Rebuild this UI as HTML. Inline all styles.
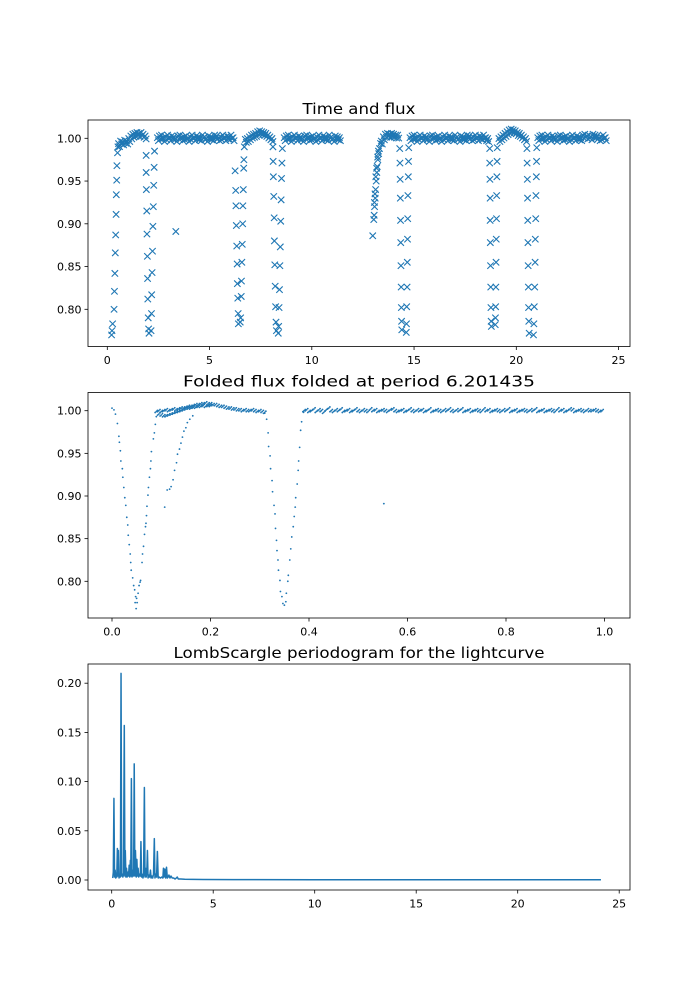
<!DOCTYPE html>
<html><head><meta charset="utf-8">
<style>
html,body{margin:0;padding:0;background:#fff;}
svg{display:block;font-family:"DejaVu Sans","Liberation Sans",sans-serif;}
</style></head>
<body>
<svg id="fig" width="700" height="1000" viewBox="0 0 700 1000" xmlns="http://www.w3.org/2000/svg">
<rect x="0" y="0" width="700" height="1000" fill="#fff"/>
<g id="p1"></g>
<g id="p2"></g>
<g id="p3"></g>
</svg>
<script>
// ---------- Panel 1 data: time & flux ----------
const cadence = 0.1;
const segStart = [0.55, 2.45, 6.75, 8.65, 13.4, 14.8, 19.15, 21.05];
const segFlux = [
 [0.992,0.995,0.994,0.996,0.995,0.998,1.001,1.003,1.004,1.005,1.004,1.005,1.003,1.001],
 [0.999,1.001,1.002,0.998,1.000,1.002,0.999,1.001,1.000,0.998,1.001,1.002,0.999,1.000,1.001,0.998,1.000,1.002,0.999,1.001,1.000,0.999,1.002,1.000,0.998,1.001,1.000,0.999,1.002,1.001,0.999,1.000,1.002,0.999,1.001,1.000,1.002,0.999],
 [0.997,0.998,1.000,1.002,1.003,1.004,1.006,1.007,1.006,1.005,1.004,1.002,1.000,0.998],
 [0.999,1.001,1.002,0.998,1.000,1.002,0.999,1.001,1.000,0.998,1.001,1.002,0.999,1.000,1.001,0.998,1.000,1.002,0.999,1.001,1.000,0.999,1.002,1.000,0.998,1.001,1.000,0.999],
 [0.995,1.000,1.003,1.004,1.003,1.004,1.003,1.002,1.002],
 [0.999,1.001,1.002,0.998,1.000,1.002,0.999,1.001,1.000,0.998,1.001,1.002,0.999,1.000,1.001,0.998,1.000,1.002,0.999,1.001,1.000,0.999,1.002,1.000,0.998,1.001,1.000,0.999,1.002,1.001,0.999,1.000,1.002,0.999,1.001,1.000,1.002,0.999,0.998],
 [0.998,1.000,1.002,1.004,1.006,1.008,1.009,1.008,1.007,1.005,1.004,1.002,1.000,0.998],
 [0.999,1.001,1.002,0.998,1.000,1.002,0.999,1.001,1.000,0.998,1.001,1.002,0.999,1.000,1.001,0.998,1.000,1.002,0.999,1.001,1.000,0.999,1.002,1.003,1.001,1.002,1.000,1.003,1.002,1.001,0.999,1.000,1.002,0.999]
];
const eclT = [0.21,0.23,0.26,0.33,0.35,0.37,0.39,0.41,0.43,0.44,0.46,0.47,0.50,0.52,
 1.90,1.90,1.91,1.93,1.94,1.96,1.97,1.98,2.00,2.02,2.04,2.14,2.16,2.17,2.19,2.21,2.23,2.25,2.27,2.29,2.31,
 3.35,
 6.25,6.28,6.29,6.31,6.33,6.35,6.36,6.38,6.40,6.41,6.50,6.52,6.55,6.56,6.58,6.60,6.62,6.63,6.65,6.67,6.68,6.70,
 8.10,8.11,8.12,8.14,8.16,8.17,8.19,8.21,8.23,8.25,8.27,8.36,8.38,8.40,8.42,8.44,8.46,8.48,8.50,8.52,8.54,8.56,
 12.98,13.03,13.05,13.07,13.10,13.12,13.15,13.18,13.20,13.23,13.27,13.31,13.36,13.06,13.09,13.13,13.17,13.22,13.26,
 14.30,14.31,14.32,14.33,14.34,14.35,14.36,14.37,14.38,14.39,14.40,14.62,14.63,14.64,14.66,14.67,14.68,14.69,14.70,14.72,14.73,14.74,
 18.70,18.70,18.71,18.72,18.72,18.73,18.74,18.75,18.76,18.77,18.78,18.97,18.98,18.99,19.00,19.01,19.02,19.03,19.04,19.05,19.06,19.07,
 20.52,20.53,20.54,20.55,20.56,20.57,20.58,20.59,20.60,20.61,20.63,20.84,20.86,20.88,20.90,20.92,20.93,20.95,20.96,20.98,20.99,21.00];
const eclF = [0.770,0.775,0.783,0.800,0.821,0.842,0.866,0.887,0.911,0.934,0.951,0.968,0.983,0.990,
 0.980,0.960,0.940,0.915,0.888,0.862,0.836,0.812,0.790,0.777,0.772,0.775,0.795,0.817,0.843,0.868,0.897,0.920,0.945,0.966,0.985,
 0.891,
 0.962,0.939,0.921,0.898,0.874,0.853,0.830,0.813,0.795,0.783,0.785,0.790,0.815,0.833,0.855,0.876,0.900,0.921,0.940,0.965,0.975,0.990,
 0.990,0.973,0.955,0.932,0.907,0.880,0.852,0.827,0.803,0.785,0.775,0.772,0.780,0.802,0.823,0.851,0.873,0.903,0.928,0.953,0.971,0.988,
 0.886,0.905,0.910,0.920,0.930,0.940,0.950,0.960,0.967,0.975,0.982,0.988,0.994,0.925,0.935,0.955,0.965,0.978,0.985,
 0.988,0.971,0.952,0.930,0.904,0.878,0.851,0.826,0.802,0.786,0.776,0.773,0.783,0.803,0.826,0.855,0.882,0.906,0.933,0.955,0.973,0.989,
 0.988,0.971,0.952,0.930,0.904,0.878,0.851,0.826,0.802,0.786,0.780,0.782,0.790,0.803,0.826,0.855,0.882,0.906,0.933,0.955,0.973,0.989,
 0.988,0.971,0.952,0.930,0.904,0.878,0.851,0.826,0.802,0.786,0.772,0.770,0.783,0.803,0.826,0.855,0.882,0.906,0.933,0.955,0.973,0.989];
const xTicks1 = [0,5,10,15,20,25];
const yTicks1 = ["0.80","0.85","0.90","0.95","1.00"];

// ---------- Panel 2 data: folded ----------
const foldP = [0.000,0.004,0.007,0.011,0.014,0.015,0.017,0.018,0.021,0.022,0.024,0.026,0.028,0.030,0.032,0.033,0.035,0.037,0.038,0.039,0.042,0.044,0.046,0.048,0.050,0.051,0.047,0.049,0.053,0.055,0.058,0.057,0.061,0.062,0.064,0.066,0.068,0.069,0.070,0.071,0.073,0.074,0.076,0.078,0.079,0.080,0.084,0.086,0.088,0.090,0.092,
 0.107,0.112,0.117,0.120,0.124,0.127,0.131,0.133,0.137,0.140,0.143,0.146,0.150,0.153,0.158,0.164,
 0.310,0.314,0.317,0.318,0.321,0.322,0.325,0.326,0.329,0.331,0.332,0.334,0.335,0.337,0.338,0.341,0.342,0.345,0.347,0.350,0.353,0.354,0.357,0.358,0.361,0.363,0.365,0.368,0.370,0.372,0.373,0.376,0.378,0.379,0.381,0.383,0.385,0.389,
 0.552];
const foldF = [1.003,1.001,0.996,0.985,0.970,0.963,0.953,0.941,0.932,0.922,0.910,0.898,0.889,0.875,0.866,0.854,0.843,0.832,0.822,0.813,0.804,0.795,0.790,0.782,0.780,0.775,0.775,0.768,0.786,0.795,0.801,0.799,0.822,0.832,0.841,0.855,0.864,0.868,0.877,0.888,0.901,0.910,0.922,0.932,0.941,0.952,0.967,0.974,0.984,0.993,1.000,
 0.887,0.907,0.908,0.911,0.919,0.930,0.939,0.949,0.955,0.962,0.969,0.976,0.980,0.986,0.990,0.994,
 0.997,0.990,0.974,0.958,0.947,0.932,0.918,0.905,0.889,0.879,0.862,0.848,0.836,0.825,0.813,0.801,0.788,0.782,0.774,0.772,0.776,0.786,0.800,0.807,0.825,0.838,0.852,0.864,0.876,0.887,0.898,0.914,0.930,0.941,0.957,0.977,0.987,0.998,
 0.891];
const bumpStart = 0.09, bumpStep = 0.005;
const bumpF = [0.999,1.000,0.999,1.000,1.001,1.000,1.001,1.002,1.001,1.002,1.003,1.003,1.004,1.005,1.005,1.006,1.007,1.007,1.008,1.008,1.009,1.008,1.008,1.007,1.007,1.006,1.005,1.005,1.004,1.003,1.003,1.002,1.002,1.001,1.001,1.000,1.001,1.000,1.000,1.001,1.000,0.999,1.000,0.999,0.998];
const lowStart = 0.095;
const lowF = [0.996,0.995,0.994,0.994,0.995,0.996,0.997,0.998,0.999,1.000,1.001,1.002,1.003,1.003,1.004,1.004,1.005,1.005,1.006,1.005,1.006,1.006];
const flatStart = 0.39;
const flatF = [1.000,1.001,0.999,1.000,1.002,0.999,1.001,1.000,0.998,1.001,1.003,1.000,0.999,1.001,1.000,1.002,0.999,1.000,1.001,0.999,1.000,1.002,1.000,0.999,1.001,1.000,0.999,1.002,1.000,1.001,0.999,1.000,1.001,1.000,0.999,1.001,1.002,1.000,0.999,1.000,1.001,0.999,1.000,1.002,1.000,0.999,1.001,1.000,1.001,0.999,1.000,1.002,0.999,1.000,1.001,1.000,0.999,1.001,1.000,1.002,
 1.000,0.999,1.001,1.000,1.002,0.999,1.000,1.001,0.999,1.000,1.001,1.000,0.999,1.002,1.000,1.001,0.999,1.000,1.001,1.000,0.999,1.001,1.000,1.002,0.999,1.000,1.001,0.999,1.000,1.001,1.000,0.999,1.001,1.000,1.002,0.999,1.000,1.001,0.999,1.000,1.001,1.000,0.999,1.002,1.000,1.001,0.999,1.000,1.002,1.001,0.999,1.000,1.001,1.000,0.999,1.001,1.000,1.000,1.001,1.000,0.999,1.000];
const xTicks2 = ["0.0","0.2","0.4","0.6","0.8","1.0"];
const yTicks2 = ["0.80","0.85","0.90","0.95","1.00"];

// ---------- Panel 3 data: periodogram ----------
const freq = [0.05,0.08,0.11,0.14,0.17,0.20,0.22,0.25,0.28,0.30,0.33,0.36,0.40,0.43,0.46,0.49,0.52,0.55,0.58,0.62,0.65,0.67,0.70,0.73,0.76,0.80,0.83,0.86,0.89,0.92,0.94,0.97,1.00,1.03,1.06,1.08,1.11,1.14,1.17,1.21,1.24,1.27,1.30,1.33,1.37,1.41,1.44,1.47,1.50,1.54,1.57,1.61,1.64,1.67,1.70,1.73,1.76,1.79,1.83,1.87,1.91,1.94,1.98,2.02,2.06,2.10,2.13,2.17,2.21,2.25,2.29,2.34,2.40,2.46,2.52,2.55,2.58,2.62,2.66,2.70,2.74,2.78,2.82,2.87,2.92,2.98,3.05,3.12,3.18,3.23,3.28,3.40,3.60,4.0,4.5,6,10,15,20,24.1];
const power = [0.002,0.008,0.083,0.003,0.010,0.002,0.006,0.003,0.032,0.004,0.030,0.002,0.006,0.003,0.210,0.004,0.006,0.003,0.005,0.157,0.004,0.030,0.003,0.012,0.003,0.008,0.004,0.015,0.003,0.020,0.004,0.103,0.003,0.010,0.004,0.005,0.118,0.004,0.030,0.003,0.021,0.004,0.012,0.003,0.006,0.004,0.039,0.003,0.006,0.002,0.005,0.094,0.003,0.012,0.003,0.008,0.030,0.002,0.005,0.003,0.010,0.002,0.004,0.002,0.006,0.042,0.002,0.006,0.003,0.029,0.002,0.003,0.002,0.003,0.002,0.012,0.003,0.011,0.002,0.013,0.002,0.003,0.005,0.002,0.004,0.002,0.002,0.001,0.002,0.003,0.001,0.001,0.0008,0.0006,0.0005,0.0004,0.0003,0.0003,0.0003,0.0003];
const xTicks3 = [0,5,10,15,20,25];
const yTicks3 = ["0.00","0.05","0.10","0.15","0.20"];

// ---------- rendering ----------
const NS = "http://www.w3.org/2000/svg";
const C = "#1f77b4";
function mk(tag, attrs, parent){
  const e = document.createElementNS(NS, tag);
  for (const k in attrs) e.setAttribute(k, attrs[k]);
  parent.appendChild(e);
  return e;
}
const L = 88, R = 630;
function axesFrame(g, top, bottom, xt, xfn, yt, yfn, title, titleLen){
  const t = mk("text", {x:(L+R)/2, y:top-6, "text-anchor":"middle", "font-size":"15", fill:"#000", textLength:titleLen, lengthAdjust:"spacingAndGlyphs"}, g);
  t.textContent = title;
  
  
  xt.forEach(v => {
    const x = xfn(parseFloat(v));
    mk("line", {x1:x, x2:x, y1:bottom, y2:bottom+3.5, stroke:"#000", "stroke-width":0.8}, g);
    const tx = mk("text", {x:x, y:bottom+17.5, "text-anchor":"middle", "font-size":"11", fill:"#000"}, g);
    tx.textContent = v;
    
    
  });
  yt.forEach(v => {
    const y = yfn(parseFloat(v));
    mk("line", {x1:L-3.5, x2:L, y1:y, y2:y, stroke:"#000", "stroke-width":0.8}, g);
    const ty = mk("text", {x:L-6.5, y:y+4, "text-anchor":"end", "font-size":"11", fill:"#000"}, g);
    ty.textContent = v;
    
    
  });
  const fr = mk("rect", {x:L, y:top, width:R-L, height:bottom-top, fill:"none", stroke:"#000", "stroke-width":0.8}, g);
  
  
}

// Panel 1
(function(){
  const g = document.getElementById("p1");
  const top = 120, bottom = 346.5;
  const sx = t => 107.3 + t*20.45;
  const sy = f => 138.3 - (f-1.0)*855;
  const marks = mk("g", {stroke:C, "stroke-width":1.1, fill:"none"}, g);
  
  
  function cross(x,y){
    const s = 3.2;
    const p = mk("path", {d:`M${x-s},${y-s}L${x+s},${y+s}M${x-s},${y+s}L${x+s},${y-s}`}, marks);
    
    
  }
  // baseline drawn as a thick band (scatter spread of dense cadence)
  segStart.forEach((s,i) => segFlux[i].forEach((f,j) => {
    const x = sx(s + j*cadence), y = sy(f);
    cross(x, y - 1.5); cross(x + 1, y + 1.5);
  }));
  eclT.forEach((t,i) => cross(sx(t), sy(eclF[i])));
  axesFrame(g, top, bottom, xTicks1.map(String), sx, yTicks1, sy, "Time and flux", 113);
})();

// Panel 2
(function(){
  const g = document.getElementById("p2");
  const top = 392.5, bottom = 618;
  const sx = p => 112 + p*492.5;
  const sy = f => 410.7 - (f-1.0)*853;
  const marks = mk("g", {fill:C}, g);
  
  
  function dot(x,y){
    const c = mk("circle", {cx:x, cy:y, r:0.9}, marks);
    
    
  }
  foldP.forEach((p,i) => dot(sx(p), sy(foldF[i])));
  [[bumpStart,bumpF],[lowStart,lowF],[flatStart,flatF]].forEach(([st,arr]) =>
    arr.forEach((f,j) => {
      const x = sx(st + j*bumpStep), y = sy(f);
      dot(x, y); dot(x + 1.2, y - 1.2); dot(x - 1.2, y + 1);
    }));
  axesFrame(g, top, bottom, xTicks2, sx, yTicks2, sy, "Folded flux folded at period 6.201435", 352);
})();

// Panel 3
(function(){
  const g = document.getElementById("p3");
  const top = 664, bottom = 890;
  const sx = f => 111.7 + f*20.3;
  const sy = p => 880 - p*984;
  const pts = freq.map((f,i) => sx(f).toFixed(2)+","+sy(power[i]).toFixed(2)).join(" ");
  const line = mk("polyline", {points:pts, fill:"none", stroke:C, "stroke-width":1.5, "stroke-linejoin":"round"}, g);
  
  
  axesFrame(g, top, bottom, xTicks3.map(String), sx, yTicks3, sy, "LombScargle periodogram for the lightcurve", 371);
})();
</script>
</body></html>
